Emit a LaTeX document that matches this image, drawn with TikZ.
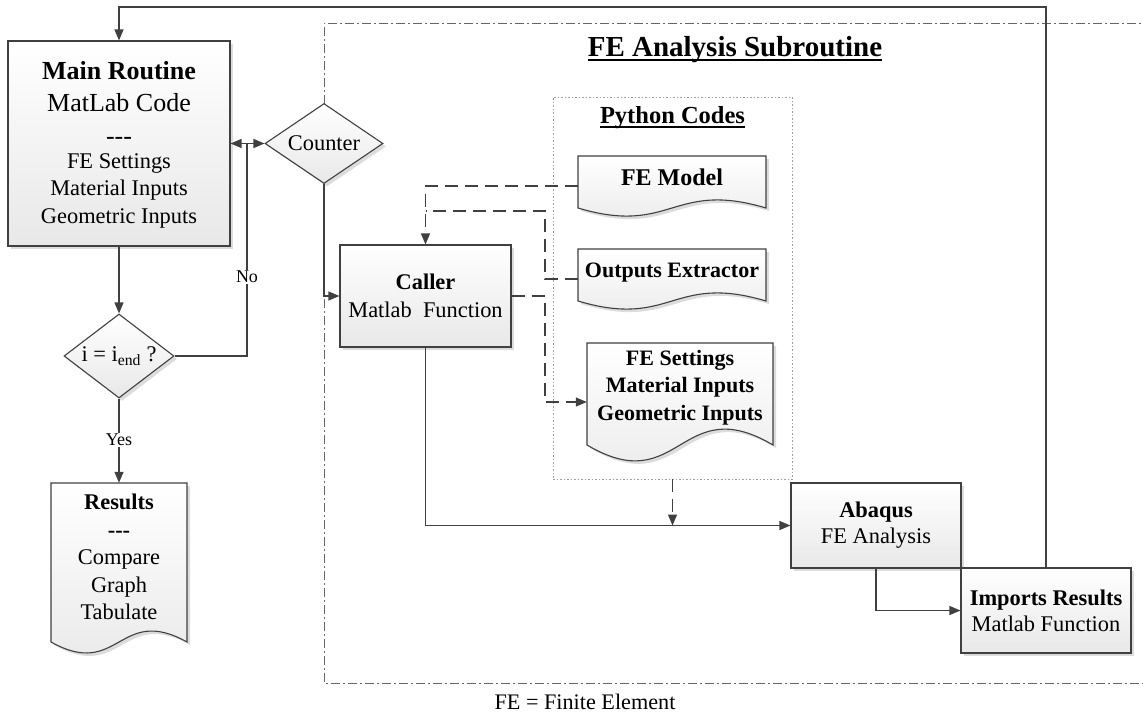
\documentclass[tikz,border=0pt]{standalone}
\usepackage{fontspec}
\setmainfont{Liberation Serif}
\usetikzlibrary{arrows.meta,shapes.geometric,shadows}
\newcommand\hyx{-\kern0pt-\kern0pt-}
\newcommand\ulbx[1]{\setbox0\hbox{#1}\rlap{\rule[-4pt]{\wd0}{1.6pt}}\box0}
\newcommand\docpathx[5]{%
  \path[boxst] (#1,#2) -- (#3,#2) -- (#3,#4) .. controls ({(#1+#3)/2},{#4-#5}) and ({(#1+#3)/2},{#4+#5}) .. (#1,#4) -- cycle;}
\begin{document}
\begin{tikzpicture}[x=1pt,y=-1pt,
  line/.style={draw=black!75,line width=1.2pt},
  arr/.style={line,-{Triangle[length=11pt,width=9pt]}},
  dsh/.style={dash pattern=on 13pt off 7pt},
  boxst/.style={draw=black!75,line width=1.1pt,top color=white,bottom color=gray!18,
     drop shadow={shadow xshift=3pt,shadow yshift=-3pt,fill=gray!60,opacity=0.45}},
  rbox/.style={boxst,rectangle,inner sep=0pt},
  dia/.style={boxst,diamond,inner sep=0pt},
  anc/.style={rectangle,inner sep=0pt},
  fs/.style={font={\fontsize{22.4pt}{27.5pt}\selectfont}},
  fsb/.style={font={\fontsize{22pt}{27.5pt}\selectfont\bfseries}},
  fbig/.style={font={\fontsize{26pt}{32.5pt}\selectfont}},
  lab/.style={font={\fontsize{18pt}{20pt}\selectfont},fill=white,inner sep=1.5pt},
  txt/.style={align=center,inner sep=0pt}
]
\useasboundingbox (0,0) rectangle (1143,715);
\clip (0,0) rectangle (1143,715);

% dash-dot frame of the subroutine
\draw[black!60,line width=1pt,dash pattern=on 9pt off 3pt on 2pt off 3pt]
  (1170,23) -- (324,23) -- (324,683) -- (1170,683);

% titles
\node[txt,font={\fontsize{29pt}{34pt}\selectfont\bfseries}] (title) at (735,50) {\ulbx{FE Analysis Subroutine}};

% python codes dotted box
\node[draw=gray!75,dash pattern=on 1.5pt off 2pt,line width=0.8pt,rectangle,
  minimum width=239pt,minimum height=382pt,inner sep=0pt] (py) at (672.5,288) {};
\node[txt,font={\fontsize{24.5pt}{28pt}\selectfont\bfseries}] (pyt) at (672.5,118) {\ulbx{Python Codes}};

% main routine
\node[rbox,minimum width=222pt,minimum height=205pt] (main) at (119,143.5) {};
\node[txt,fbig] (mainA) at (119,102.5) {\textbf{Main Routine}\\MatLab Code\\\hyx};
\node[txt,fs] (mainB) at (119,190.5) {FE Settings\\Material Inputs\\Geometric Inputs};

% diamonds
\node[dia,aspect=1.475,minimum width=118pt,minimum height=80pt,fs] (counter) at (324,143.5) {Counter};
\node[dia,aspect=1.31,minimum width=110pt,minimum height=84pt,fs] (dec) at (119,356) {i = i\textsubscript{end} ?};

% results document
\docpathx{51}{483}{187}{642}{38}
\node[anc,minimum width=136pt,minimum height=159pt] (res) at (119,562.5) {};
\node[txt,fs] (rest) at (119,557) {\textbf{Results}\\\textbf{\hyx}\\Compare\\Graph\\Tabulate};

% caller, abaqus, imports
\node[rbox,minimum width=171pt,minimum height=102pt,fs,align=center,
  font={\fontsize{22.4pt}{28pt}\selectfont}] (caller) at (425.5,296) {\textbf{Caller}\\Matlab\ \ Function};
\node[rbox,minimum width=170pt,minimum height=85pt,align=center,
  font={\fontsize{22.4pt}{26pt}\selectfont}] (abq) at (876,525.5) {\textbf{Abaqus}\\FE Analysis};
\node[rbox,minimum width=170pt,minimum height=85pt,align=center,
  font={\fontsize{22.4pt}{26pt}\selectfont}] (imp) at (1046,610.5) {\textbf{Imports Results}\\Matlab Function};

% python documents
\docpathx{578}{156}{766}{208}{28}
\node[anc,minimum width=188pt,minimum height=60pt] (fem) at (672,186) {};
\node[txt,font={\fontsize{24pt}{28pt}\selectfont\bfseries}] (femt) at (672,177) {FE Model};

\docpathx{578}{249}{766}{301}{28}
\node[anc,minimum width=188pt,minimum height=60pt] (oe) at (672,279) {};
\node[txt,fsb] (oet) at (672,273) {Outputs Extractor};

\docpathx{587}{343}{773}{445}{55}
\node[anc,minimum width=186pt,minimum height=118pt] (fes) at (680,402) {};
\node[txt,fsb] (fest) at (680,387.5) {FE Settings\\Material Inputs\\Geometric Inputs};

% helper coordinates
\coordinate (topy) at (0,7);
\coordinate (nojoin) at (247,143.5);
\coordinate (xd) at (545,0);
\coordinate (yj) at (0,211);

% connectors
\draw[arr] (imp.north) -- (imp.north |- topy) -| (main.north);
\draw[line,{Triangle[length=11pt,width=9pt]}-{Triangle[length=11pt,width=9pt]}] (main.east) -- (counter.west);
\draw[arr] (main.south) -- (dec.north);
\draw[line] (dec.east) -| (nojoin);
\node[lab] (no) at (247,277) {No};
\draw[arr] (dec.south) -- (res.north);
\node[lab] (yes) at (119,440) {Yes};
\draw[arr] (counter.south) |- (caller.west);
\draw[arr,dsh] (fem.west) -| (caller.north);
\draw[line,dsh] (oe.west) -- (xd |- oe.west) |- (caller.north |- yj);
\draw[arr,dsh] (caller.east) -- (xd |- caller.east) |- (fes.west);
\draw[arr,dsh] (py.south) -- (py.south |- abq.west);
\draw[arr] (caller.south) |- (abq.west);
\draw[arr] (abq.south) |- (imp.west);

% footnote
\node[txt,font={\fontsize{22.2pt}{26pt}\selectfont}] (fn) at (585,702) {FE = Finite Element};
\end{tikzpicture}
\end{document}
